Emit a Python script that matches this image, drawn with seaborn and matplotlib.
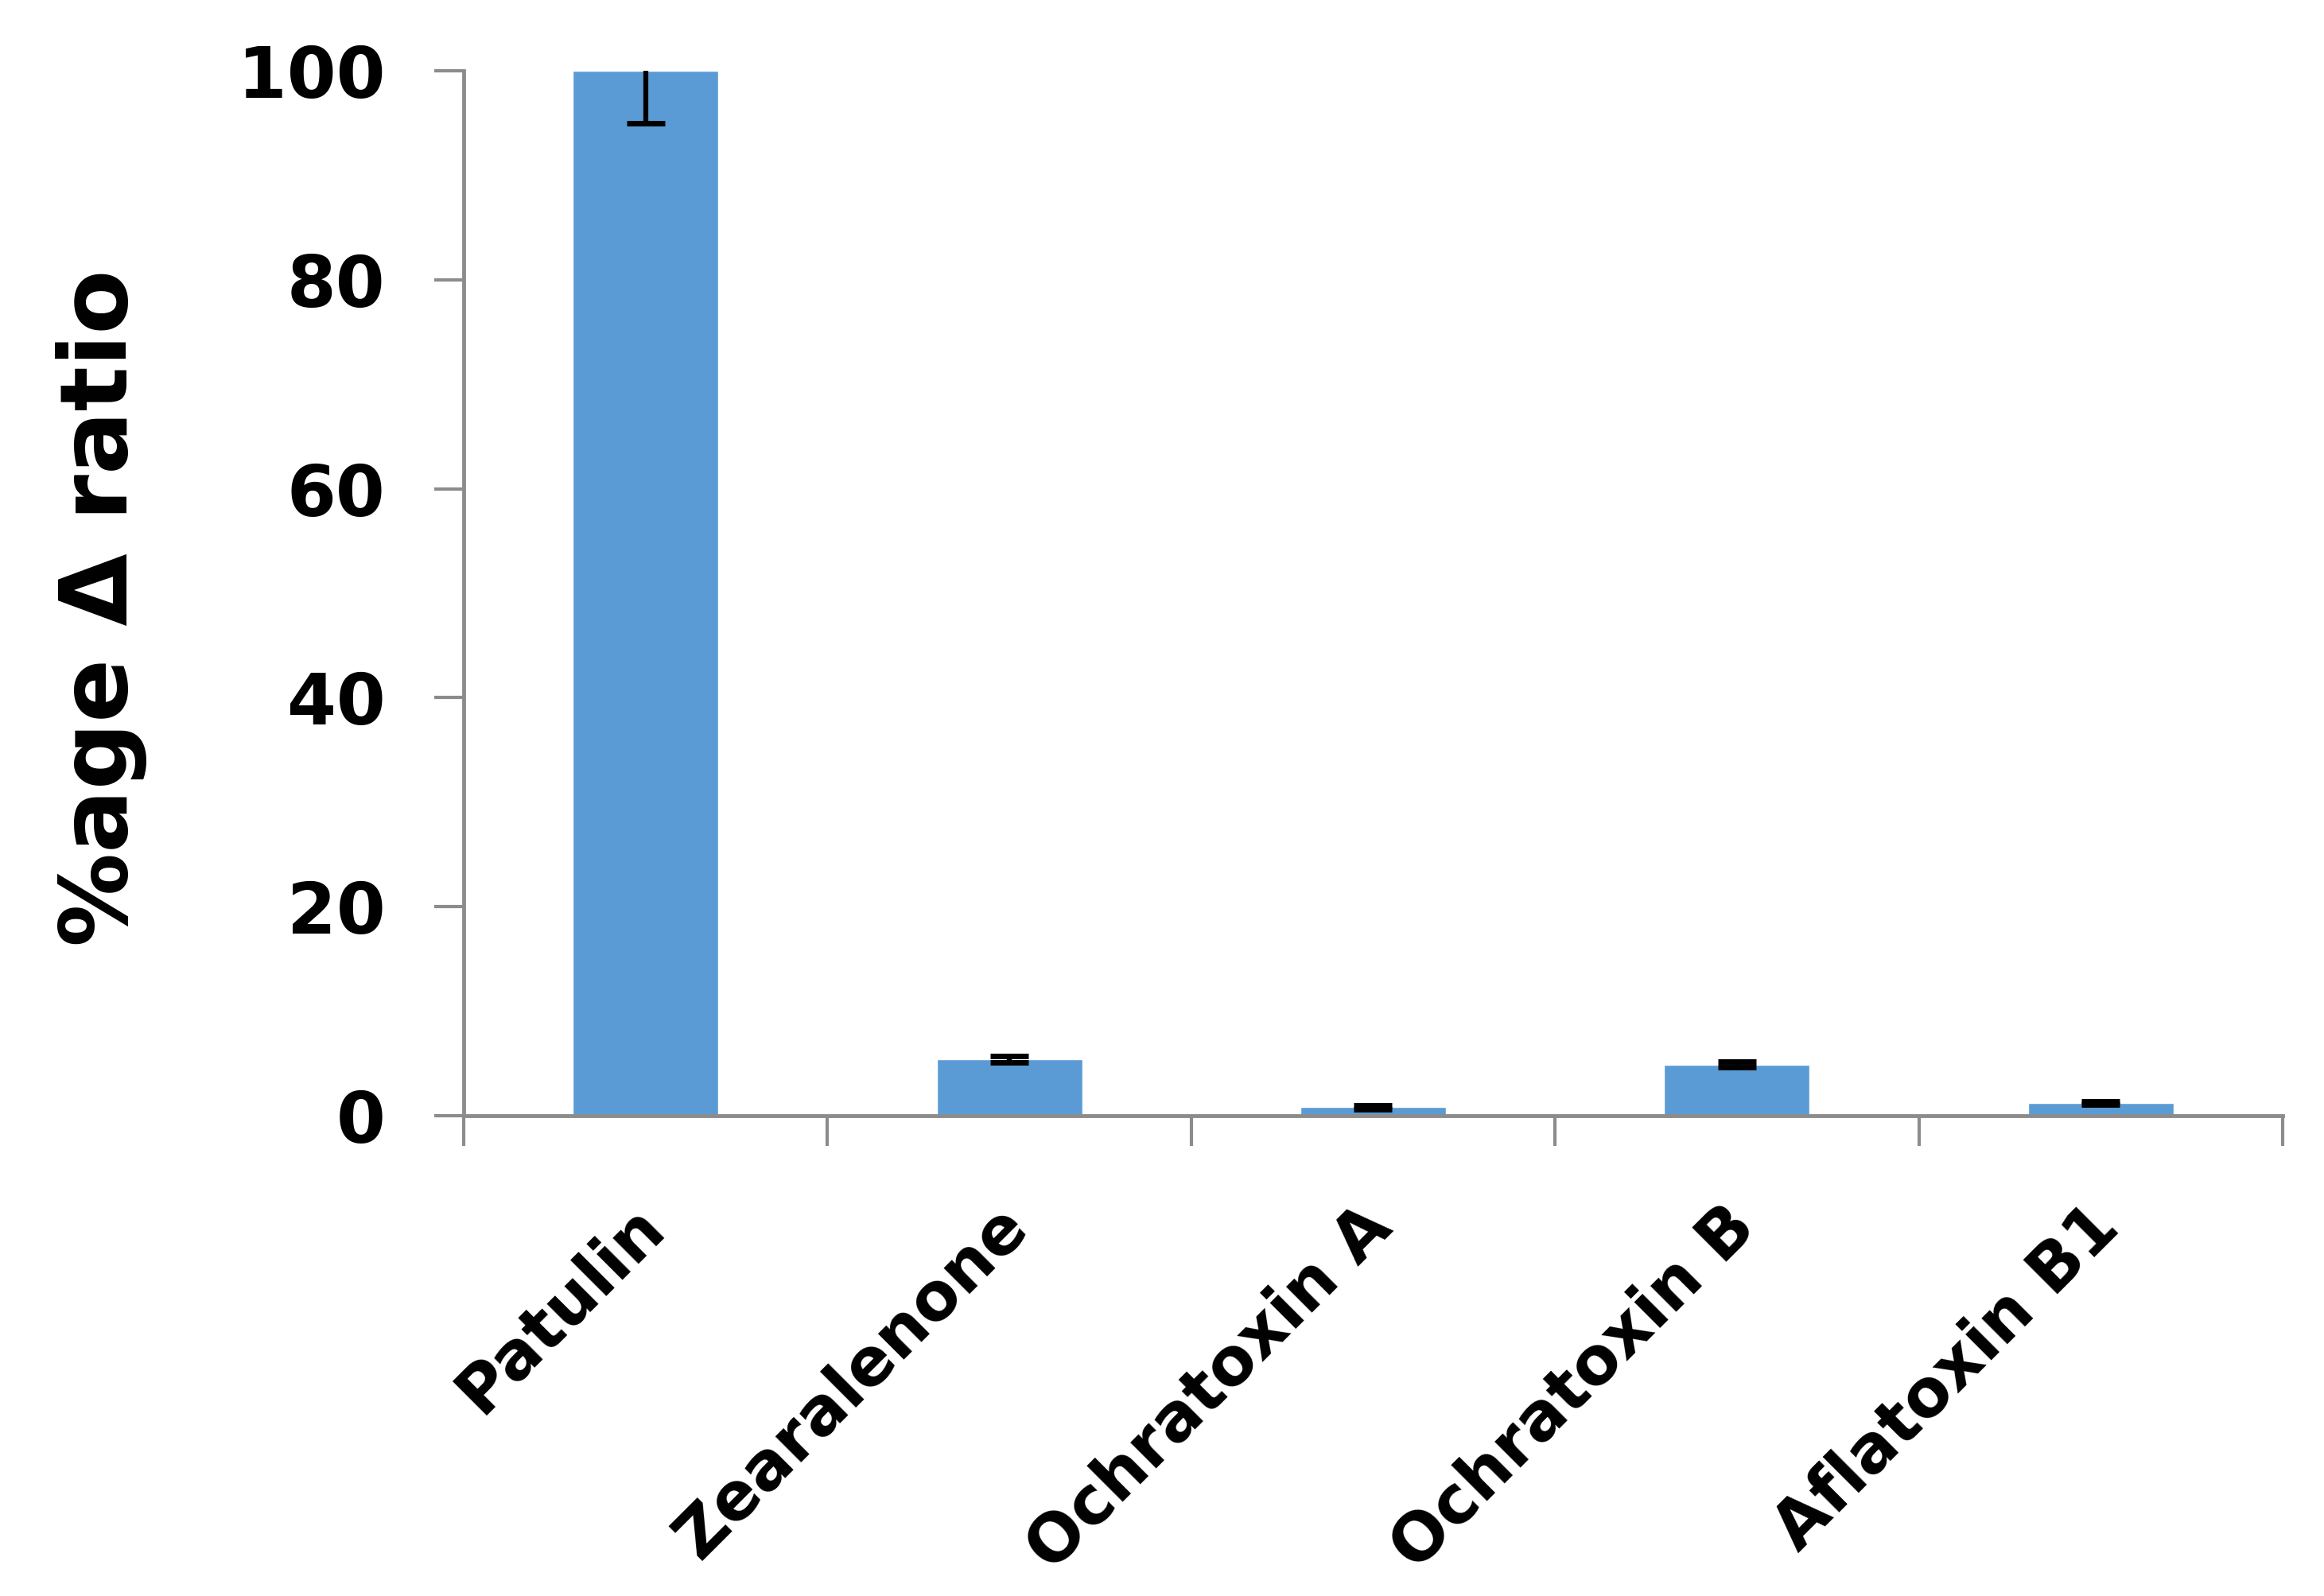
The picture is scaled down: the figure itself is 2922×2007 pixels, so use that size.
import numpy as np
import pandas as pd
import matplotlib
matplotlib.use("Agg")
import matplotlib.pyplot as plt
import matplotlib.transforms as mtransforms
import seaborn as sns

# ---------------- Data ----------------
toxins = ["Patulin", "Zearalenone", "Ochratoxin A", "Ochratoxin B", "Aflatoxin B1"]
ratio = [100.0, 5.4, 0.8, 4.9, 1.2]
ratio_err = [5.0, 0.3, 0.2, 0.3, 0.15]
y_ticks = [0, 20, 40, 60, 80, 100]

df = pd.DataFrame({"toxin": toxins, "ratio": ratio})

# ---------------- Style ----------------
sns.set_style("white")
plt.rcParams["font.family"] = ["DejaVu Sans"]
plt.rcParams["font.weight"] = "bold"
plt.rcParams["text.color"] = "black"
plt.rcParams["xtick.labelcolor"] = "black"
plt.rcParams["ytick.labelcolor"] = "black"
plt.rcParams["axes.labelcolor"] = "black"

bar_color = "#5B9BD5"
axis_gray = "#8C8C8C"

fig = plt.figure(figsize=(29.22, 20.07), dpi=100)
ax = fig.add_axes([0.1995, 0.3010, 0.7827, 0.6547])

sns.barplot(data=df, x="toxin", y="ratio", color=bar_color, width=0.4,
            errorbar=None, saturation=1, ax=ax)
ax.errorbar(np.arange(len(toxins)), ratio, yerr=ratio_err, fmt="none",
            ecolor="black", elinewidth=4.5, capsize=17, capthick=5, zorder=5)

ax.set_xlim(-0.5, len(toxins) - 0.5)
ax.set_ylim(0, 100)

# spines
sns.despine(ax=ax, top=True, right=True)
for side in ["left", "bottom"]:
    ax.spines[side].set_color(axis_gray)
    ax.spines[side].set_linewidth(3.5)

# y axis
ax.set_yticks(y_ticks)
ax.set_yticklabels([str(v) for v in y_ticks], fontsize=64, fontweight="bold",
                   color="black")
ax.tick_params(axis="y", which="major", direction="out", length=27, width=3,
               color=axis_gray, pad=44, left=True)

# x axis: tick marks at category boundaries, labels at centres
ax.set_xticks(np.arange(len(toxins)))
ax.set_xticklabels(toxins, fontsize=60, fontweight="bold", rotation=45,
                   ha="right", va="top", rotation_mode="anchor", color="black")
ax.set_xticks(np.arange(-0.5, len(toxins)), minor=True)
ax.tick_params(axis="x", which="major", length=0, pad=71)
ax.tick_params(axis="x", which="minor", direction="out", length=27, width=3,
               color=axis_gray, bottom=True)
shift = mtransforms.ScaledTranslation(-18 / 100, 0, fig.dpi_scale_trans)
for lab in ax.get_xticklabels():
    lab.set_transform(lab.get_transform() + shift)

ax.set_xlabel("")
ax.set_ylabel("%age Δ ratio", fontsize=85, fontweight="bold", color="black")
ax.yaxis.set_label_coords(-0.174, 0.486)

fig.savefig("out.png", dpi=100)
